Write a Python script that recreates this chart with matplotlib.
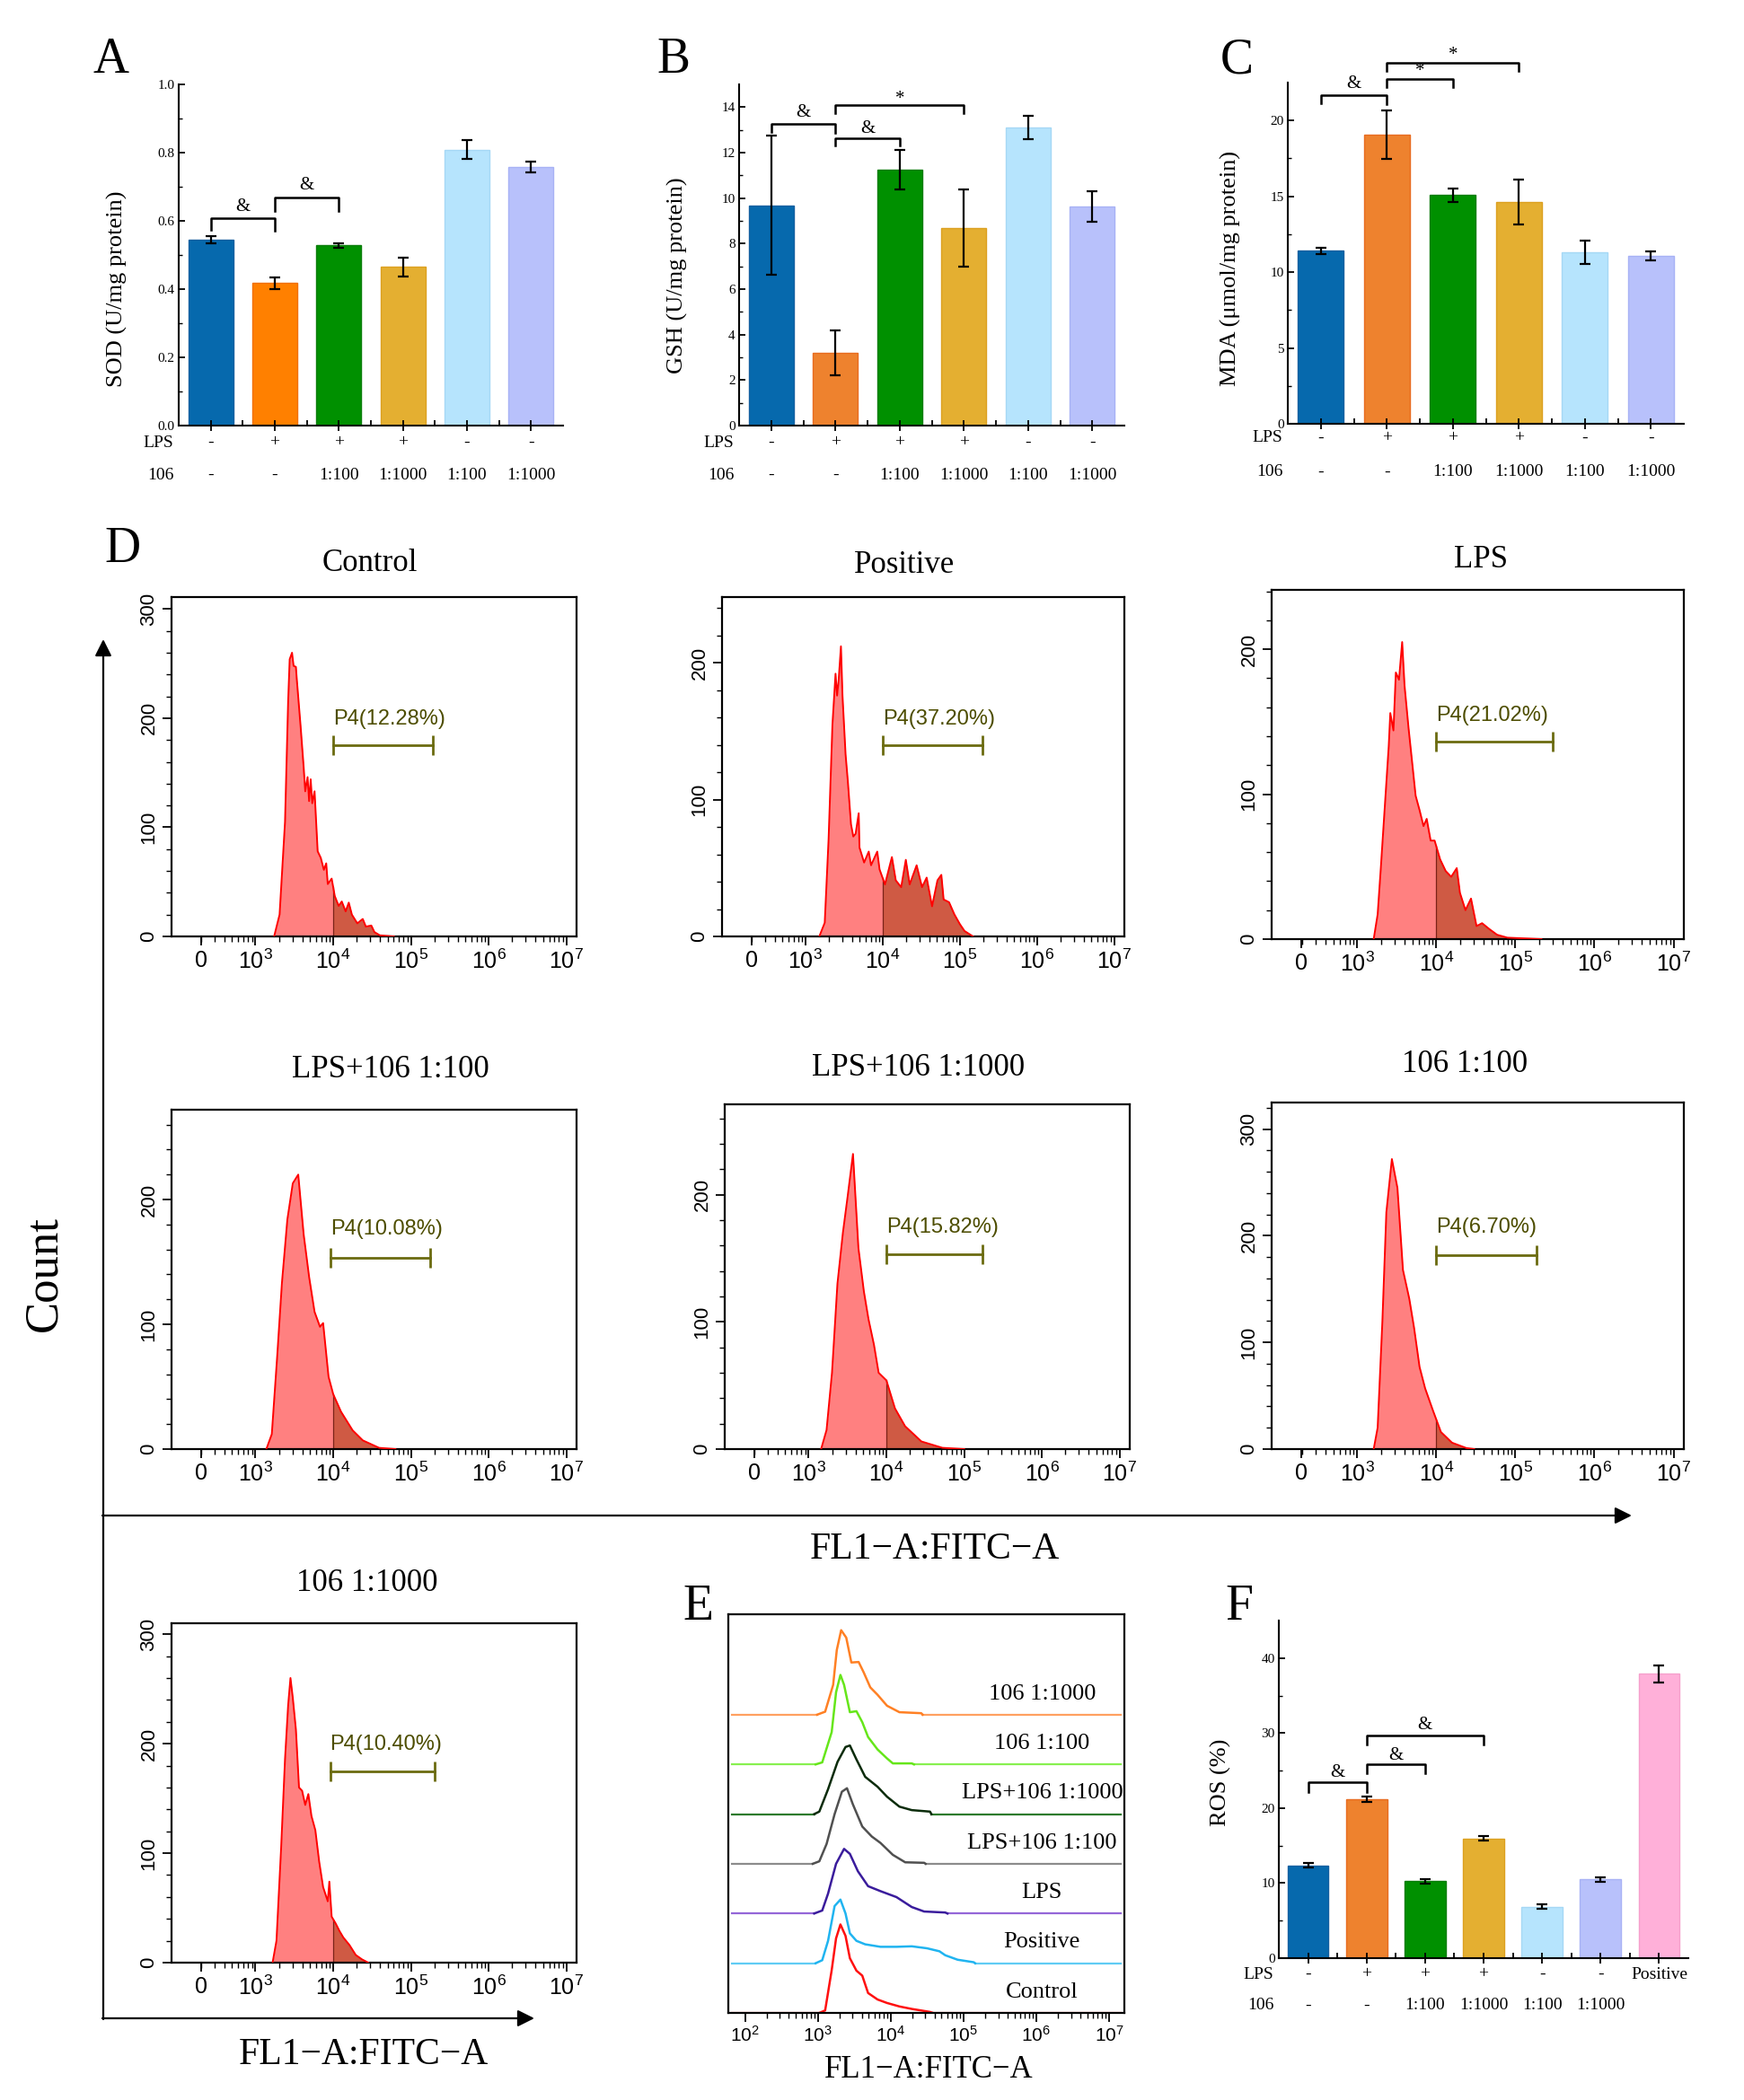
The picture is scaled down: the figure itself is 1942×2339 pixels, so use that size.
import numpy as np
import matplotlib
matplotlib.use("Agg")
import matplotlib.pyplot as plt

plt.rcParams['font.family'] = ['Liberation Serif', 'DejaVu Serif']
plt.rcParams['mathtext.fontset'] = 'custom'
plt.rcParams['mathtext.rm'] = 'Liberation Sans'
plt.rcParams['mathtext.it'] = 'Liberation Sans:italic'
plt.rcParams['mathtext.bf'] = 'Liberation Sans:bold'

# ---------------- bar chart data ----------------
lps_row = ['-', '+', '+', '+', '-', '-']
d106_row = ['-', '-', '1:100', '1:1000', '1:100', '1:1000']
ros_lps_row = ['-', '+', '+', '+', '-', '-', 'Positive']
ros_106_row = ['-', '-', '1:100', '1:1000', '1:100', '1:1000', '']

sod = [0.545, 0.418, 0.528, 0.465, 0.809, 0.758]
sod_err = [0.010, 0.017, 0.006, 0.027, 0.027, 0.016]
gsh = [9.69, 3.19, 11.24, 8.67, 13.10, 9.65]
gsh_err = [3.05, 0.98, 0.86, 1.70, 0.50, 0.67]
mda = [11.42, 19.07, 15.08, 14.64, 11.31, 11.08]
mda_err = [0.20, 1.62, 0.44, 1.48, 0.78, 0.28]
ros = [12.37, 21.20, 10.26, 15.93, 6.83, 10.50, 37.90]
ros_err = [0.30, 0.40, 0.30, 0.30, 0.30, 0.30, 1.10]

# significance brackets: (bar i, bar j, top, left foot, right foot, mark, mark y)
sod_brk = [(0, 1, 0.609, 0.575, 0.572, '&', 0.642), (1, 2, 0.668, 0.630, 0.630, '&', 0.705)]
gsh_brk = [(0, 1, 13.28, 12.90, 12.85, '&', 13.75), (1, 2, 12.64, 12.30, 12.30, '&', 13.04),
           (1, 3, 14.10, 13.74, 13.74, '*', 14.35)]
mda_brk = [(0, 1, 21.65, 21.12, 21.06, '&', 22.40), (1, 2, 22.75, 22.20, 22.20, '*', 23.25),
           (1, 3, 23.83, 23.26, 23.26, '*', 24.30)]
ros_brk = [(0, 1, 23.4, 22.15, 22.1, '&', 24.75), (1, 2, 25.9, 24.7, 24.7, '&', 27.0),
           (1, 3, 29.74, 28.5, 28.5, '&', 31.1)]

# ---------------- flow cytometry histograms (x in decades of FL1-A) ----------------
ctrl_x = [3.24, 3.31, 3.38, 3.42, 3.44, 3.47, 3.49, 3.52, 3.53, 3.58, 3.62, 3.64, 3.67, 3.69, 3.71, 3.73,
          3.76, 3.80, 3.84, 3.88, 3.91, 3.93, 3.98, 4.02, 4.07, 4.11, 4.16, 4.20, 4.24, 4.31, 4.38, 4.42,
          4.49, 4.53, 4.60, 4.78]
ctrl_y = [0, 20, 105, 215, 254, 260, 248, 247, 237, 193, 155, 133, 146, 124, 144, 122,
          133, 78, 72, 61, 67, 48, 53, 37, 28, 32, 23, 31, 20, 12, 16, 9,
          10, 4, 1, 0]
pos_x = [3.18, 3.25, 3.30, 3.35, 3.39, 3.41, 3.43, 3.46, 3.48, 3.52, 3.55, 3.59, 3.62, 3.65, 3.69, 3.70,
         3.76, 3.82, 3.85, 3.93, 3.96, 4.03, 4.12, 4.17, 4.24, 4.30, 4.35, 4.44, 4.51, 4.57, 4.64, 4.71,
         4.76, 4.79, 4.86, 4.93, 5.00, 5.06, 5.17]
pos_y = [0, 10, 71, 155, 192, 176, 187, 212, 176, 133, 113, 82, 73, 75, 90, 65,
         54, 62, 52, 62, 49, 38, 58, 41, 36, 56, 38, 52, 36, 43, 22, 41,
         45, 27, 25, 16, 9, 4, 0]
lps_x = [3.21, 3.26, 3.30, 3.35, 3.40, 3.42, 3.46, 3.49, 3.53, 3.57, 3.60, 3.65, 3.70, 3.74, 3.79, 3.84,
         3.88, 3.93, 3.98, 4.05, 4.12, 4.19, 4.26, 4.30, 4.37, 4.44, 4.51, 4.58, 4.67, 4.77, 4.90, 5.33]
lps_y = [0, 17, 49, 91, 133, 156, 144, 184, 179, 205, 175, 146, 120, 99, 89, 78,
         83, 68, 68, 55, 47, 43, 49, 32, 20, 28, 9, 11, 7, 3, 1, 0]
l100_x = [3.14, 3.21, 3.28, 3.34, 3.41, 3.48, 3.55, 3.62, 3.69, 3.76, 3.83, 3.87, 3.94, 4.00, 4.10, 4.25,
          4.38, 4.59, 4.80]
l100_y = [0, 12, 75, 133, 184, 213, 220, 172, 138, 110, 98, 101, 58, 44, 30, 15, 7, 1, 0]
l1000_x = [3.16, 3.23, 3.30, 3.37, 3.44, 3.50, 3.57, 3.64, 3.71, 3.77, 3.84, 3.90, 4.00, 4.11, 4.24, 4.45,
           4.72, 5.00]
l1000_y = [0, 15, 60, 130, 170, 198, 232, 158, 124, 102, 82, 60, 54, 32, 18, 6, 1, 0]
s100_x = [3.21, 3.26, 3.32, 3.37, 3.44, 3.51, 3.58, 3.66, 3.72, 3.79, 3.86, 3.96, 4.06, 4.20, 4.38, 4.48]
s100_y = [0, 20, 120, 222, 272, 245, 168, 141, 114, 77, 57, 36, 16, 6, 1, 0]
s1000_x = [3.22, 3.27, 3.33, 3.38, 3.42, 3.45, 3.48, 3.52, 3.56, 3.60, 3.64, 3.68, 3.72, 3.77, 3.82, 3.87,
           3.93, 3.95, 3.98, 4.03, 4.08, 4.13, 4.21, 4.29, 4.37, 4.45]
s1000_y = [0, 20, 105, 186, 235, 260, 242, 213, 160, 157, 144, 154, 134, 121, 92, 69,
           56, 74, 42, 36, 29, 23, 16, 7, 3, 0]

hist_titles = ['Control', 'Positive', 'LPS', 'LPS+106 1:100', 'LPS+106 1:1000', '106 1:100', '106 1:1000']
hist_ymax = [311, 248, 241, 272, 271, 325, 310]
gate_lo = [4.0, 4.0, 4.0, 3.97, 4.0, 4.0, 3.96]
gate_hi = [5.28, 5.29, 5.47, 5.25, 5.24, 5.27, 5.30]
gate_y = [175, 140, 136, 153, 153, 182, 175]
gate_lab_y = [199, 159, 154, 176, 174, 208, 199]
gate_pct = ['P4(12.28%)', 'P4(37.20%)', 'P4(21.02%)', 'P4(10.08%)', 'P4(15.82%)', 'P4(6.70%)', 'P4(10.40%)']

# ---------------- overlay (panel E), offsets in stacked units ----------------
ectrl_x = [3.02, 3.10, 3.19, 3.25, 3.31, 3.38, 3.44, 3.53, 3.61, 3.69, 3.82, 3.95, 4.12, 4.29, 4.54, 4.58]
ectrl_y = [0, 0.05, 0.86, 1.5, 1.78, 1.55, 1.1, 0.85, 0.75, 0.4, 0.27, 0.2, 0.13, 0.08, 0.02, 0]
epos_x = [2.97, 3.06, 3.14, 3.23, 3.31, 3.38, 3.44, 3.53, 3.65, 3.86, 4.08, 4.29, 4.50, 4.67, 4.75, 4.92,
          5.14, 5.16]
epos_y = [0, 0.06, 0.45, 1.15, 1.28, 1.0, 0.6, 0.45, 0.38, 0.33, 0.33, 0.34, 0.3, 0.24, 0.16, 0.07, 0.02, 0]
elps_x = [2.95, 3.06, 3.14, 3.25, 3.36, 3.44, 3.55, 3.69, 3.86, 4.08, 4.29, 4.46, 4.75, 4.78]
elps_y = [0, 0.06, 0.4, 1.0, 1.3, 1.2, 0.85, 0.55, 0.45, 0.33, 0.13, 0.04, 0.02, 0]
el100_x = [2.93, 3.02, 3.12, 3.23, 3.33, 3.40, 3.48, 3.61, 3.74, 3.86, 4.03, 4.20, 4.46, 4.48]
el100_y = [0, 0.05, 0.4, 1.0, 1.45, 1.52, 1.2, 0.75, 0.55, 0.42, 0.18, 0.03, 0.02, 0]
el1000_x = [2.95, 3.02, 3.14, 3.27, 3.38, 3.44, 3.53, 3.65, 3.82, 3.95, 4.12, 4.29, 4.54, 4.56]
el1000_y = [0, 0.05, 0.5, 1.05, 1.35, 1.38, 1.1, 0.75, 0.55, 0.35, 0.15, 0.08, 0.05, 0]
es100_x = [2.97, 3.06, 3.19, 3.25, 3.31, 3.36, 3.44, 3.53, 3.61, 3.69, 3.82, 3.95, 4.03, 4.29, 4.32]
es100_y = [0, 0.04, 0.65, 1.45, 1.8, 1.6, 1.05, 1.07, 0.85, 0.55, 0.3, 0.12, 0.02, 0.02, 0]
es1000_x = [2.99, 3.10, 3.21, 3.26, 3.32, 3.39, 3.46, 3.56, 3.63, 3.72, 3.82, 3.95, 4.12, 4.42, 4.44]
es1000_y = [0, 0.06, 0.6, 1.3, 1.7, 1.55, 1.05, 1.06, 0.85, 0.55, 0.4, 0.18, 0.05, 0.03, 0]
e_offsets = [0, 1, 2, 3, 4, 5, 6]

W, H = 1942, 2339
fig = plt.figure(figsize=(W / 100, H / 100), dpi=100)


def add_ax(l, t, r, b):
    return fig.add_axes([l / W, 1 - b / H, (r - l) / W, (b - t) / H])


# overlay in pixel coordinates for labels and arrows
ov = fig.add_axes([0, 0, 1, 1])
ov.set_xlim(0, W)
ov.set_ylim(H, 0)
ov.axis('off')

for lt, x, y in [('A', 124, 67), ('B', 750, 67), ('C', 1377, 67), ('D', 137, 612), ('E', 777, 1790), ('F', 1380, 1790)]:
    ov.text(x, y, lt, fontsize=40, ha='center', va='center')

arr = dict(arrowstyle='-|>', lw=1.6, color='k', mutation_scale=28, shrinkA=0, shrinkB=0)
ov.annotate('', xy=(115, 712), xytext=(115, 2249), arrowprops=arr)
ov.annotate('', xy=(1817, 1688), xytext=(114, 1688), arrowprops=arr)
ov.annotate('', xy=(595, 2248), xytext=(114, 2248), arrowprops=arr)
ov.text(49, 1419, 'Count', fontsize=38, rotation=90, ha='center', va='center')
ov.text(1041, 1726, 'FL1\u2212A:FITC\u2212A', fontsize=30, ha='center', va='center')
ov.text(405, 2289, 'FL1\u2212A:FITC\u2212A', fontsize=30, ha='center', va='center')
ov.text(1034, 2305, 'FL1\u2212A:FITC\u2212A', fontsize=25, ha='center', va='center')

colors6 = ['#0669ad', '#ee822e', '#009000', '#e4af31', '#b6e4fd', '#b8c1fb']
edges6 = ['#1560a0', '#e86c20', '#0a7d0a', '#dca020', '#a6d8f5', '#a8b2f5']


def bar_panel(ax, vals, errs, colors, edges, ylim, major, minor, fmt, ylabel, ylab_pos,
              row1, row2, gaps, brackets):
    n = len(vals)
    xs = np.arange(n)
    ax.set_axisbelow(False)
    ax.bar(xs, vals, 0.7, color=colors, edgecolor=edges, linewidth=1.0, zorder=2)
    ax.errorbar(xs, vals, yerr=errs, fmt='none', ecolor='k', elinewidth=1.6, capsize=4,
                capthick=1.6, zorder=3)
    ax.set_xlim(-0.5, n - 0.5)
    ax.set_ylim(*ylim)
    ax.set_yticks(major)
    ax.set_yticklabels([fmt.format(v) for v in major], fontsize=11)
    ax.set_yticks(minor, minor=True)
    ax.set_xticks(xs)
    ax.set_xticklabels([])
    ax.set_xticks(xs[:-1] + 0.5, minor=True)
    ax.tick_params(axis='x', which='major', direction='inout', length=8, width=1.3)
    ax.tick_params(axis='x', which='minor', direction='in', length=4, width=1.3)
    ax.tick_params(axis='y', which='major', direction='in', length=5, width=1.3, pad=3)
    ax.tick_params(axis='y', which='minor', direction='in', length=3, width=1.0)
    for s in ['top', 'right']:
        ax.spines[s].set_visible(False)
    for s in ['left', 'bottom']:
        ax.spines[s].set_linewidth(1.5)
    ax.set_ylabel(ylabel, fontsize=19)
    ax.yaxis.set_label_coords(*ylab_pos)
    for k, lab in enumerate(['LPS', '106']):
        ax.annotate(lab, xy=(0, 0), xycoords='axes fraction', xytext=(-4, -gaps[k] * 0.72),
                    textcoords='offset points', ha='right', va='center', fontsize=14)
    for i in range(n):
        for k, row in enumerate([row1, row2]):
            ax.annotate(row[i], xy=(i, 0), xycoords=('data', 'axes fraction'),
                        xytext=(0, -gaps[k] * 0.72), textcoords='offset points',
                        ha='center', va='center', fontsize=14)
    for i, j, yt, yl, yr, mk, ym in brackets:
        ax.plot([i, i, j, j], [yl, yt, yt, yr], color='k', lw=1.8, clip_on=False, zorder=4)
        ax.text((i + j) / 2, ym, mk, fontsize=15, ha='center', va='center', clip_on=False)


axA = add_ax(199, 94, 627, 474)
bar_panel(axA, sod, sod_err, ['#0669ad', '#ff8000'] + colors6[2:], ['#1560a0', '#f07000'] + edges6[2:],
          (0, 1.0), np.arange(0, 1.01, 0.2), np.arange(0.1, 1.0, 0.2), '{:.1f}',
          'SOD (U/mg protein)', (-0.133, 0.40), lps_row, d106_row, (19, 55), sod_brk)

axB = add_ax(823, 94, 1252, 474)
bar_panel(axB, gsh, gsh_err, colors6, edges6, (0, 15), np.arange(0, 15, 2), np.arange(1, 15, 2), '{:.0f}',
          'GSH (U/mg protein)', (-0.133, 0.44), lps_row, d106_row, (19, 55), gsh_brk)

axC = add_ax(1434, 92, 1875, 472)
bar_panel(axC, mda, mda_err, colors6, edges6, (0, 22.5), np.arange(0, 21, 5), np.arange(2.5, 22.5, 5), '{:.0f}',
          'MDA (\u03bcmol/mg protein)', (-0.118, 0.455), lps_row, d106_row, (16, 54), mda_brk)

axF = add_ax(1424, 1805, 1880, 2181)
bar_panel(axF, ros, ros_err, colors6 + ['#ffb0d9'], edges6 + ['#f5a0cc'], (0, 45), np.arange(0, 41, 10),
          np.arange(5, 45, 10), '{:.0f}', 'ROS (%)', (-0.116, 0.52), ros_lps_row, ros_106_row,
          (18, 53), ros_brk)

# ---------------- histograms ----------------
hist_x = [ctrl_x, pos_x, lps_x, l100_x, l1000_x, s100_x, s1000_x]
hist_y = [ctrl_y, pos_y, lps_y, l100_y, l1000_y, s100_y, s1000_y]
hist_box = [(191, 665, 642, 1043), (804, 665, 1252, 1043), (1416, 657, 1875, 1046),
            (191, 1236, 642, 1614), (807, 1230, 1258, 1614), (1416, 1228, 1875, 1614),
            (191, 1808, 642, 2186)]
title_pos = [(412, 627), (1007, 630), (1649, 624), (435, 1191), (1023, 1189), (1631, 1185), (409, 1763)]

minor_x = [np.log10(k * 10.0 ** d) for d in range(2, 7) for k in range(1, 10)]
minor_x = [v for v in minor_x if 1.95 < v < 7.1 and abs(v - round(v)) > 1e-6]

for h in range(7):
    ax = add_ax(*hist_box[h])
    x = np.asarray(hist_x[h], float)
    y = np.asarray(hist_y[h], float)
    ax.fill_between(x, y, color='#ff8080', lw=0, zorder=1)
    m = x > 4.0
    y4 = np.interp(4.0, x, y)
    xd = np.concatenate([[4.0], x[m]])
    yd = np.concatenate([[y4], y[m]])
    ax.fill_between(xd, yd, color='#cf5a44', lw=0, zorder=1)
    ax.plot([4.0, 4.0], [0, y4], color='#7a2218', lw=0.9, zorder=2)
    ax.plot(x, y, color='#ff0000', lw=1.4, zorder=3)
    ax.plot([gate_lo[h], gate_hi[h]], [gate_y[h], gate_y[h]], color='#6b6b10', lw=2,
            marker='|', markersize=16, mew=2)
    ax.text(gate_lo[h], gate_lab_y[h], gate_pct[h], fontsize=17, color='#4d4d00',
            ha='left', va='center', family='Liberation Sans')
    ax.set_xlim(1.92, 7.13)
    ax.set_ylim(0, hist_ymax[h])
    yt = [v for v in [0, 100, 200, 300] if v <= hist_ymax[h]]
    ax.set_yticks(yt)
    ax.set_yticklabels([str(v) for v in yt], fontsize=16, family='Liberation Sans', rotation=90, va='center')
    ax.set_yticks(np.arange(20, hist_ymax[h], 20), minor=True)
    ax.set_xticks([2.3, 3, 4, 5, 6, 7])
    ax.set_xticklabels(['0', '$10^{3}$', '$10^{4}$', '$10^{5}$', '$10^{6}$', '$10^{7}$'],
                       fontsize=18, family='Liberation Sans')
    ax.set_xticks(minor_x, minor=True)
    ax.tick_params(which='major', direction='out', length=7, width=1.3)
    ax.tick_params(which='minor', direction='out', length=4, width=1.0)
    for s in ax.spines.values():
        s.set_linewidth(1.6)
    ov.text(title_pos[h][0], title_pos[h][1], hist_titles[h], fontsize=25, ha='center', va='center')

# ---------------- panel E overlay ----------------
axE = add_ax(811, 1798, 1252, 2242)
e_x = [ectrl_x, epos_x, elps_x, el100_x, el1000_x, es100_x, es1000_x]
e_y = [ectrl_y, epos_y, elps_y, el100_y, el1000_y, es100_y, es1000_y]
e_col = ['#ff1010', '#20b4f0', '#3a1c9c', '#505050', '#0c2c0c', '#66e61a', '#ff8024']
e_base = ['#ff6060', '#60ccf5', '#9466d8', '#8c8c8c', '#2d7a2d', '#88f050', '#ffa060']
for k in range(7):
    off = e_offsets[k]
    xx = np.asarray(e_x[k])
    yy = np.asarray(e_y[k]) + off
    axE.plot([1.82, xx[0]], [off, off], color=e_base[k], lw=1.6)
    axE.plot([xx[-1], 7.16], [off, off], color=e_base[k], lw=1.6)
    axE.plot(xx, yy, color=e_col[k], lw=1.8)
    axE.text(6.08, off + 0.42, hist_titles[k], fontsize=19, ha='center', va='center')
axE.set_xlim(1.77, 7.21)
axE.set_ylim(0, 8.02)
axE.set_yticks([])
axE.set_xticks([2, 3, 4, 5, 6, 7])
axE.set_xticklabels(['$10^{2}$', '$10^{3}$', '$10^{4}$', '$10^{5}$', '$10^{6}$', '$10^{7}$'], fontsize=15)
axE.set_xticks([np.log10(k * 10.0 ** d) for d in range(2, 7) for k in range(2, 10)], minor=True)
axE.tick_params(which='major', direction='out', length=7, width=1.3)
axE.tick_params(which='minor', direction='out', length=4, width=1.0)
for s in axE.spines.values():
    s.set_linewidth(1.6)

fig.savefig('out.png', dpi=100)
